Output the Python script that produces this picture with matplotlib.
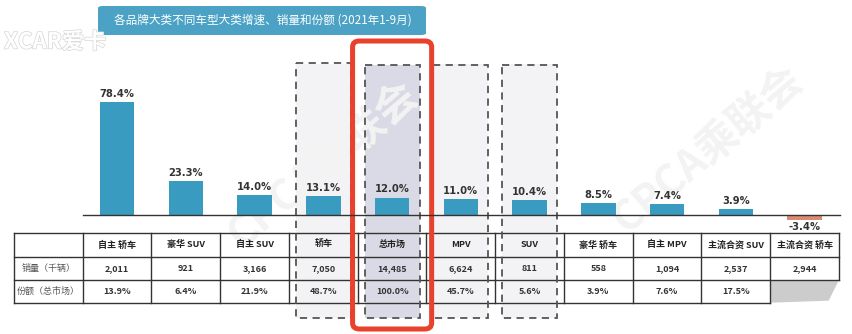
import matplotlib.pyplot as plt
import matplotlib.patheffects as pe
from matplotlib.patches import FancyBboxPatch, Rectangle, Polygon

plt.rcParams['font.family'] = ['Noto Sans CJK SC', 'DejaVu Sans']

title = '各品牌大类不同车型大类增速、销量和份额 (2021年1-9月)'
categories = ['自主 轿车', '豪华 SUV', '自主 SUV', '轿车', '总市场', 'MPV',
              'SUV', '豪华 轿车', '自主 MPV', '主流合资 SUV', '主流合资 轿车']
growth = [78.4, 23.3, 14.0, 13.1, 12.0, 11.0, 10.4, 8.5, 7.4, 3.9, -3.4]
sales = ['2,011', '921', '3,166', '7,050', '14,485', '6,624', '811',
         '558', '1,094', '2,537', '2,944']
share = ['13.9%', '6.4%', '21.9%', '48.7%', '100.0%', '45.7%', '5.6%',
         '3.9%', '7.6%', '17.5%', '']
row_labels = ['销量（千辆）', '份额（总市场）']
dashed = [3, 5, 6]
highlight = 4

W, H = 852, 334
fig = plt.figure(figsize=(W / 100, H / 100), dpi=100)

# column geometry (pixels): first data column centre and column pitch
c0, pitch = 117.1, 68.75
xlim = ((0 - c0) / pitch, (W - c0) / pitch)

# background axes: x = column index, y = pixels from top
bg = fig.add_axes([0, 0, 1, 1])
bg.set_xlim(*xlim)
bg.set_ylim(H, 0)
bg.axis('off')

# bar axes sharing x, y in percent
ax = fig.add_axes([0, 0, 1, 1], zorder=2)
ax.patch.set_alpha(0)
ax.set_xlim(*xlim)
px_per = 1.445
base_from_bottom = H - 215
ax.set_ylim(-base_from_bottom / px_per, (H - base_from_bottom) / px_per)
ax.axis('off')

# title banner
fig.patches.append(FancyBboxPatch((98 / W, 1 - 35 / H), 328 / W, 29 / H,
                                  boxstyle='round,pad=0,rounding_size=0.006',
                                  transform=fig.transFigure, fc='#4ba2c5',
                                  ec='none', zorder=0))
fig.text(263 / W, 1 - 20.5 / H, title, ha='center', va='center',
         color='white', fontsize=8.4)

# logo
fig.text(4 / W, 1 - 42 / H, 'XCAR爱卡', fontsize=16, fontstyle='italic',
         fontweight='bold', color='white', va='center',
         path_effects=[pe.withStroke(linewidth=1.0, foreground='#d6d6d6')])

# watermarks
for x, y in [(3.0, 165), (8.6, 150)]:
    bg.text(x, y, 'CPCA乘联会', rotation=40, fontsize=30, fontweight='bold',
            color='#f3f3f3', ha='center', va='center', zorder=1)

# box fills
hw = 0.4
for i in dashed:
    bg.add_patch(Rectangle((i - hw, 64), 2 * hw, 254, fc='#f3f3f5', ec='none', zorder=0.5))
bg.add_patch(Rectangle((highlight - hw, 65), 2 * hw, 253, fc='#dadae6', ec='none', zorder=0.5))

# bars
xs = list(range(len(categories)))
colors = ['#3a9bc0' if v >= 0 else '#dc8a72' for v in growth]
ax.bar(xs, growth, width=0.5, color=colors, zorder=3)
ax.axhline(0, xmin=83 / W, xmax=840 / W, color='#333333', lw=1, zorder=4)
for x, v in zip(xs, growth):
    if v >= 0:
        ax.text(x, v + 2.2, f'{v:.1f}%', ha='center', va='bottom',
                fontsize=7.2, fontweight='bold', color='#333333', family='DejaVu Sans')
    else:
        ax.text(x, v - 1.5, f'{v:.1f}%', ha='center', va='top',
                fontsize=7.2, fontweight='bold', color='#333333', family='DejaVu Sans')

# table
rows_y = [233, 256.7, 280, 302.7]
left = -1.5 - 0.005
right = len(categories) - 0.5
lc = '#333333'
n = len(categories)
for k, y in enumerate(rows_y):
    x_end = right if k < 3 else n - 1.5
    bg.plot([left, x_end], [y, y], color=lc, lw=1, zorder=3)
for j in range(n + 2):
    xv = left if j == 0 else j - 1.5
    y_end = rows_y[3]
    if j == n + 1:
        y_end = rows_y[2]
    bg.plot([xv, xv], [rows_y[0], y_end], color=lc, lw=1, zorder=3)

# page-curl shading in the empty cell
bg.add_patch(Polygon([(n - 1.5, rows_y[2]), (right, rows_y[2]), (right - 0.15, rows_y[3] - 2),
                      (n - 1.5, rows_y[3])], closed=True, fc='#cccccc', ec='none', zorder=2))


def mid(a, b):
    return (a + b) / 2


for i, name in enumerate(categories):
    bg.text(i, mid(rows_y[0], rows_y[1]), name, ha='center', va='center',
            fontsize=6.5, fontweight='bold', color='#222222', zorder=4)
    bg.text(i, mid(rows_y[1], rows_y[2]), sales[i], ha='center', va='center',
            fontsize=6.5, fontweight='bold', color='#333333', zorder=4)
    if share[i]:
        bg.text(i, mid(rows_y[2], rows_y[3]), share[i], ha='center', va='center',
                fontsize=6.5, fontweight='bold', color='#333333', zorder=4)
for k, lab in enumerate(row_labels):
    bg.text(-1.0, mid(rows_y[k + 1], rows_y[k + 2]), lab, ha='center', va='center',
            fontsize=6.5, color='#555555', zorder=4)

# dashed outlines
for i in dashed + [highlight]:
    top = 65 if i in (highlight, 5, 6) else 63
    bg.add_patch(Rectangle((i - hw, top), 2 * hw, 318 - top, fc='none', ec='#555555',
                           lw=1.3, ls=(0, (4, 3)), zorder=5))

# red highlight frame
bg.add_patch(FancyBboxPatch((highlight - 0.575, 41), 1.15, 288,
                            boxstyle='round,pad=0,rounding_size=0.1',
                            mutation_aspect=60, fc='none', ec='#e8412c',
                            lw=3.6, zorder=6))

fig.savefig('out.png', dpi=100)
